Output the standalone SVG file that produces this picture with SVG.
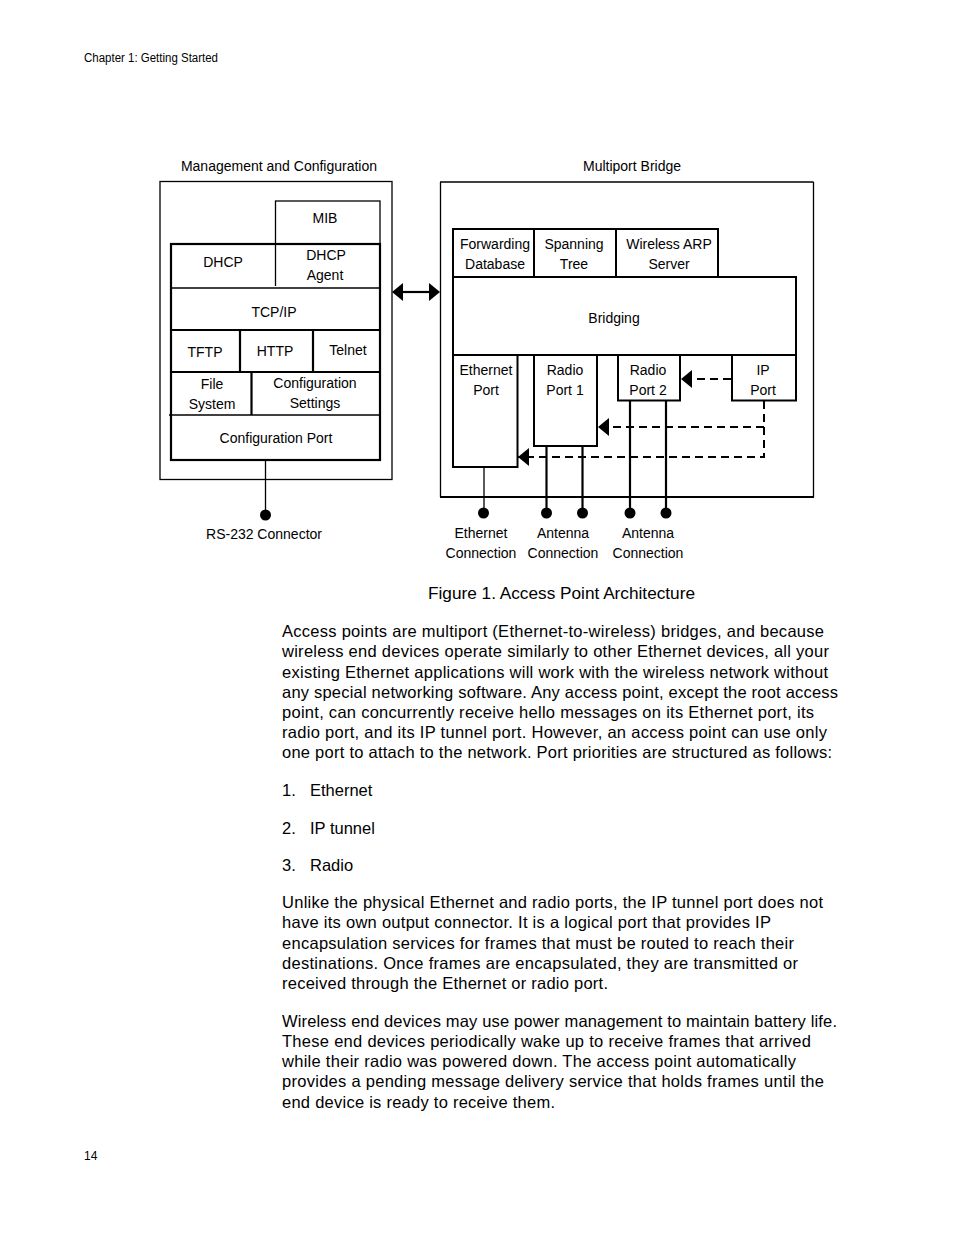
<svg xmlns="http://www.w3.org/2000/svg" width="954" height="1235" viewBox="0 0 954 1235">
<style>
text{font-family:"Liberation Sans",Arial,sans-serif;fill:#000}
.d{font-size:14px;text-anchor:middle}
.b{font-size:16.5px}
.thin{fill:none;stroke:#000;stroke-width:1.3}
.thick{fill:none;stroke:#000;stroke-width:2.2}
.box{fill:#fff;stroke:#000;stroke-width:2}
.dash{fill:none;stroke:#000;stroke-width:2;stroke-dasharray:8 5}
</style>
<defs>
<marker id="ah" viewBox="0 0 11 18" refX="11" refY="9" markerWidth="11" markerHeight="18" markerUnits="userSpaceOnUse" orient="auto-start-reverse"><path d="M0,0 L11,9 L0,18 Z" fill="#000"/></marker>
</defs>
<rect width="954" height="1235" fill="#fff"/>
<text x="84" y="62" font-size="12" textLength="134" lengthAdjust="spacingAndGlyphs">Chapter 1: Getting Started</text>

<g id="mgmt">
<text class="d" x="279" y="171">Management and Configuration</text>
<rect class="thin" x="160" y="181.5" width="232" height="298"/>
</g>
<g id="mib"><rect class="thin" x="275.5" y="201" width="104.5" height="43"/><text class="d" x="325" y="223">MIB</text></g>
<g id="stack">
<rect class="thick" x="171" y="244" width="209" height="216"/>
<line class="thin" x1="275.5" y1="244" x2="275.5" y2="286"/>
<line class="thin" x1="171" y1="288" x2="380" y2="288"/>
<line class="thick" x1="171" y1="330" x2="380" y2="330"/>
<line class="thick" x1="240" y1="330" x2="240" y2="372"/>
<line class="thick" x1="313" y1="330" x2="313" y2="372"/>
<line class="thick" x1="171" y1="372" x2="380" y2="372"/>
<line class="thick" x1="251.5" y1="372" x2="251.5" y2="415"/>
<line class="thin" x1="169" y1="415" x2="380" y2="415"/>
</g>
<g id="dhcp"><text class="d" x="223" y="267">DHCP</text></g>
<g id="dhcpagent"><text class="d" x="326" y="260">DHCP</text><text class="d" x="325" y="280">Agent</text></g>
<g id="tcpip"><text class="d" x="274" y="317">TCP/IP</text></g>
<g id="tftp"><text class="d" x="205" y="357">TFTP</text></g>
<g id="http"><text class="d" x="275" y="356">HTTP</text></g>
<g id="telnet"><text class="d" x="348" y="355">Telnet</text></g>
<g id="filesys"><text class="d" x="212" y="389">File</text><text class="d" x="212" y="409">System</text></g>
<g id="cfgset"><text class="d" x="315" y="388">Configuration</text><text class="d" x="315" y="408">Settings</text></g>
<g id="cfgport"><text class="d" x="276" y="443">Configuration Port</text></g>
<g id="rs232"><circle cx="265.5" cy="515" r="5.5" fill="#000"/><text class="d" x="264" y="539">RS-232 Connector</text></g>

<g id="bridge">
<text class="d" x="632" y="171">Multiport Bridge</text>
<line class="thin" x1="440.5" y1="182" x2="440.5" y2="497"/>
<line class="thin" x1="440" y1="182" x2="813.5" y2="182"/>
<line class="thin" x1="813.5" y1="182" x2="813.5" y2="497"/>
<line class="thick" x1="440" y1="497" x2="814" y2="497"/>
</g>
<g id="fwd"><rect class="box" x="453" y="229" width="81" height="48"/><text class="d" x="495" y="249">Forwarding</text><text class="d" x="495" y="269">Database</text></g>
<g id="stp"><rect class="box" x="534" y="229" width="82" height="48"/><text class="d" x="574" y="249">Spanning</text><text class="d" x="574" y="269">Tree</text></g>
<g id="warp"><rect class="box" x="616" y="229" width="102" height="48"/><text class="d" x="669" y="249">Wireless ARP</text><text class="d" x="669" y="269">Server</text></g>
<g id="bridging"><rect class="box" x="453" y="277" width="343" height="78"/><text class="d" x="614" y="323">Bridging</text></g>
<g id="ethport"><rect class="box" x="453" y="355" width="64.5" height="112"/><text class="d" x="486" y="375">Ethernet</text><text class="d" x="486" y="395">Port</text></g>
<g id="radio1"><rect class="box" x="534" y="355" width="63" height="91"/><text class="d" x="565" y="375">Radio</text><text class="d" x="565" y="395">Port 1</text></g>
<g id="radio2"><rect class="box" x="618" y="355" width="62" height="45.5"/><text class="d" x="648" y="375">Radio</text><text class="d" x="648" y="395">Port 2</text></g>
<g id="ipport"><rect class="box" x="732" y="355" width="64" height="45.5"/><text class="d" x="763" y="375">IP</text><text class="d" x="763" y="395">Port</text></g>

<g id="connectors">
<line class="thick" x1="402" y1="292" x2="430" y2="292"/>
<path d="M392,292 L403,283 L403,301 Z" fill="#000"/>
<path d="M440,292 L429,283 L429,301 Z" fill="#000"/>
<line class="thin" x1="265.5" y1="460" x2="265.5" y2="512"/>
<line class="dash" x1="731" y1="379" x2="681" y2="379" marker-end="url(#ah)"/>
<polyline class="dash" points="764,401 764,457 518,457" marker-end="url(#ah)"/>
<line class="dash" x1="764" y1="427" x2="598" y2="427" marker-end="url(#ah)"/>
<line class="thin" x1="484" y1="467" x2="484" y2="512"/>
<line class="thick" x1="546.5" y1="446" x2="546.5" y2="512"/>
<line class="thick" x1="582.5" y1="446" x2="582.5" y2="512"/>
<line class="thick" x1="630" y1="400" x2="630" y2="512"/>
<line class="thick" x1="666" y1="400" x2="666" y2="512"/>
</g>
<g id="dots" fill="#000">
<circle cx="483.5" cy="513" r="5.5"/><circle cx="546.5" cy="513" r="5.5"/><circle cx="582.5" cy="513" r="5.5"/><circle cx="630" cy="513" r="5.5"/><circle cx="666" cy="513" r="5.5"/>
</g>
<g id="conlabels">
<text class="d" x="481" y="538">Ethernet</text><text class="d" x="481" y="558">Connection</text>
<text class="d" x="563" y="538">Antenna</text><text class="d" x="563" y="558">Connection</text>
<text class="d" x="648" y="538">Antenna</text><text class="d" x="648" y="558">Connection</text>
</g>

<text x="428" y="599" font-size="16.5" textLength="267" lengthAdjust="spacingAndGlyphs">Figure 1. Access Point Architecture</text>

<g class="b">
<text x="282" y="637" textLength="542">Access points are multiport (Ethernet-to-wireless) bridges, and because</text>
<text x="282" y="657" textLength="547">wireless end devices operate similarly to other Ethernet devices, all your</text>
<text x="282" y="677.5" textLength="546">existing Ethernet applications will work with the wireless network without</text>
<text x="282" y="698" textLength="556">any special networking software. Any access point, except the root access</text>
<text x="282" y="718" textLength="532">point, can concurrently receive hello messages on its Ethernet port, its</text>
<text x="282" y="738" textLength="545">radio port, and its IP tunnel port. However, an access point can use only</text>
<text x="282" y="758" textLength="550">one port to attach to the network. Port priorities are structured as follows:</text>
<text x="282" y="796">1.</text><text x="310" y="796">Ethernet</text>
<text x="282" y="834">2.</text><text x="310" y="834">IP tunnel</text>
<text x="282" y="871">3.</text><text x="310" y="871">Radio</text>
<text x="282" y="908" textLength="541">Unlike the physical Ethernet and radio ports, the IP tunnel port does not</text>
<text x="282" y="928" textLength="489">have its own output connector. It is a logical port that provides IP</text>
<text x="282" y="949" textLength="512">encapsulation services for frames that must be routed to reach their</text>
<text x="282" y="969" textLength="516">destinations. Once frames are encapsulated, they are transmitted or</text>
<text x="282" y="989" textLength="326">received through the Ethernet or radio port.</text>
<text x="282" y="1027" textLength="555">Wireless end devices may use power management to maintain battery life.</text>
<text x="282" y="1047" textLength="529">These end devices periodically wake up to receive frames that arrived</text>
<text x="282" y="1067" textLength="514">while their radio was powered down. The access point automatically</text>
<text x="282" y="1087" textLength="542">provides a pending message delivery service that holds frames until the</text>
<text x="282" y="1108" textLength="273">end device is ready to receive them.</text>
</g>
<text x="84" y="1160" font-size="12">14</text>
</svg>
